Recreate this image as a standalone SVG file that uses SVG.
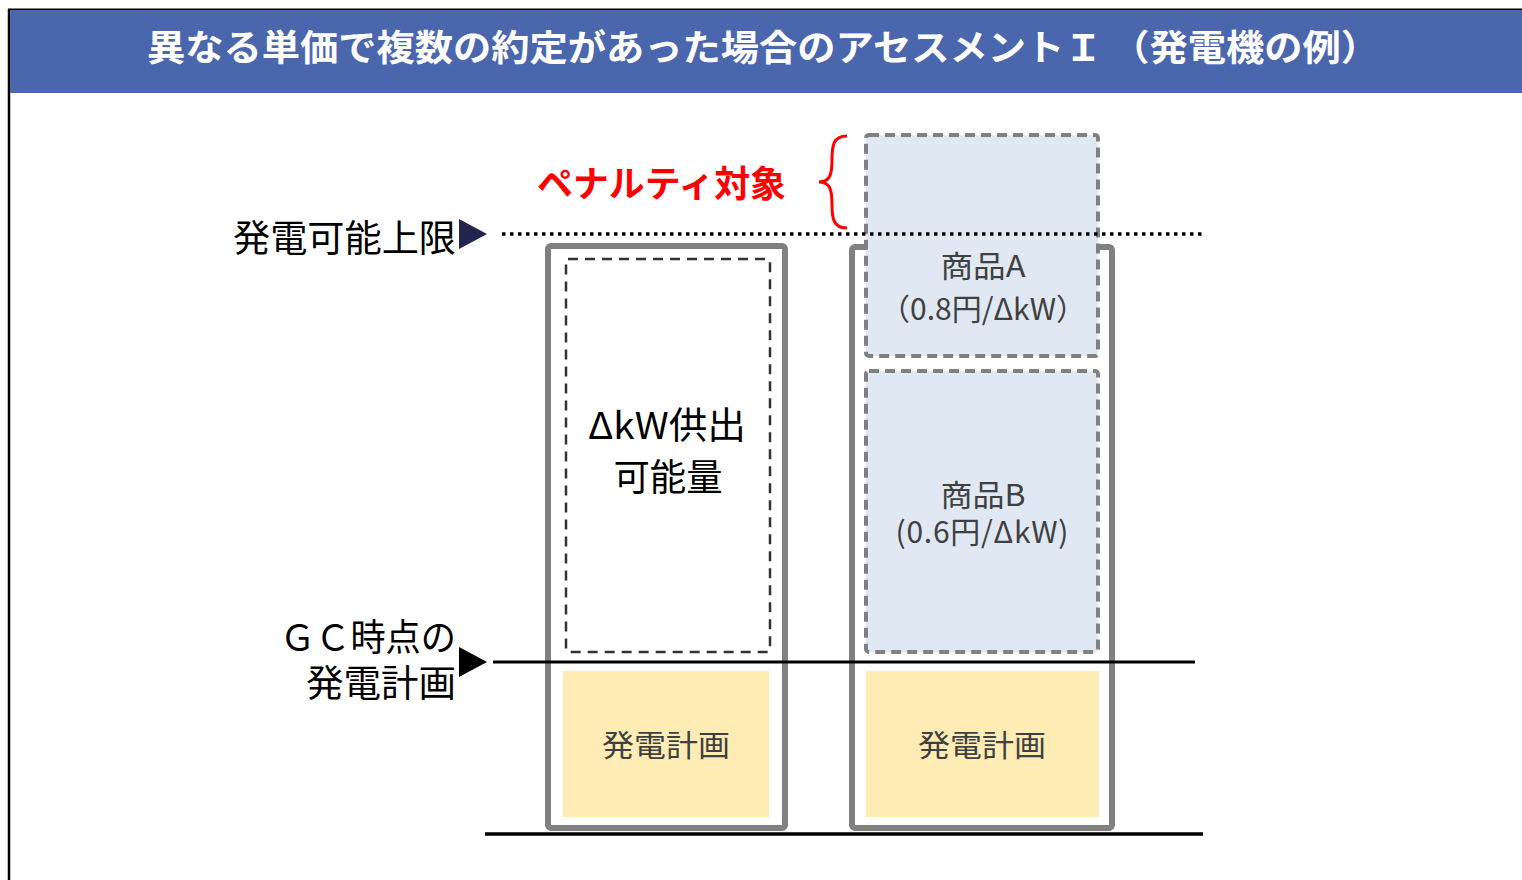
<svg xmlns="http://www.w3.org/2000/svg" width="1522" height="880" viewBox="0 0 1522 880">
<style>
.jp{font-family:"Noto Sans CJK JP","Noto Sans",sans-serif}
.outer{fill:none;stroke:#808080;stroke-width:6}
.plan{fill:#FFECB5}
.prod{fill:#DFE8F3;stroke:#808080;stroke-width:4;stroke-dasharray:10 6}
.lbl{font-size:37px;fill:#000}
.inner{font-size:30px;fill:#404040;text-anchor:middle}
</style>
<rect width="1522" height="880" fill="#fff"/>
<g id="frame">
<line x1="9" y1="9" x2="9" y2="880" stroke="#000" stroke-width="2.5"/>
<line x1="8" y1="9.5" x2="1522" y2="9.5" stroke="#000" stroke-width="2"/>
<rect x="10" y="10" width="1512" height="83" fill="#4A67AE"/>
<text x="763" y="61" class="jp" font-size="36" font-weight="bold" fill="#fff" text-anchor="middle" textLength="1232" lengthAdjust="spacingAndGlyphs">異なる単価で複数の約定があった場合のアセスメントＩ （発電機の例）</text>
</g>
<g id="col-left">
<rect x="548" y="246" width="237" height="582" rx="3" class="outer"/>
<rect x="566" y="259" width="204" height="393" rx="2" fill="#fff" stroke="#333" stroke-width="2.5" stroke-dasharray="10 7"/>
<text x="667" y="439" class="jp lbl" text-anchor="middle" textLength="158" lengthAdjust="spacingAndGlyphs">ΔkW供出</text>
<text x="668" y="491" class="jp lbl" text-anchor="middle" textLength="109" lengthAdjust="spacingAndGlyphs">可能量</text>
<rect x="563" y="671" width="206" height="146" class="plan"/>
<text x="666" y="756" class="jp inner" textLength="128" lengthAdjust="spacingAndGlyphs">発電計画</text>
</g>
<g id="col-right">
<rect x="852" y="247" width="260" height="581" rx="3" class="outer"/>
<g id="prod-a">
<rect x="866" y="135" width="232" height="221" rx="3" class="prod"/>
<text x="983" y="277" class="jp inner" textLength="85" lengthAdjust="spacingAndGlyphs">商品A</text>
<text x="983" y="320" class="jp inner" font-size="31">（0.8円/ΔkW）</text>
</g>
<g id="prod-b">
<rect x="866" y="371" width="232" height="281" rx="3" class="prod"/>
<text x="983" y="506" class="jp inner" font-size="29" textLength="85" lengthAdjust="spacingAndGlyphs">商品B</text>
<text x="982" y="543" class="jp inner" font-size="29" textLength="173" lengthAdjust="spacing">(0.6円/ΔkW)</text>
</g>
<rect x="866" y="671" width="233" height="146" class="plan"/>
<text x="982" y="756" class="jp inner" textLength="128" lengthAdjust="spacingAndGlyphs">発電計画</text>
</g>
<g id="connectors">
<line x1="502" y1="234" x2="1205" y2="234" stroke="#000" stroke-width="3.5" stroke-dasharray="3.5 4.5"/>
<line x1="493" y1="662" x2="1195" y2="662" stroke="#000" stroke-width="3"/>
<line x1="485" y1="834" x2="1203" y2="834" stroke="#000" stroke-width="3.5"/>
<polygon points="459,219 487,234 459,249" fill="#22254F"/>
<polygon points="459,647 487,662 459,677" fill="#000"/>
<path d="M847,136 C833,136 832,146 832,160 C832,174 830,182 819,182 C830,182 832,190 832,204 C832,218 833,228 847,228" fill="none" stroke="#f00" stroke-width="3"/>
</g>
<g id="labels">
<text x="456" y="252" class="jp lbl" text-anchor="end" textLength="223" lengthAdjust="spacingAndGlyphs">発電可能上限</text>
<text x="456" y="651" class="jp lbl" text-anchor="end" textLength="176" lengthAdjust="spacingAndGlyphs">ＧＣ時点の</text>
<text x="456" y="697" class="jp lbl" text-anchor="end" textLength="150" lengthAdjust="spacingAndGlyphs">発電計画</text>
<text x="537" y="197" class="jp" font-size="36" font-weight="bold" fill="#f00" textLength="249" lengthAdjust="spacingAndGlyphs">ペナルティ対象</text>
</g>
</svg>
